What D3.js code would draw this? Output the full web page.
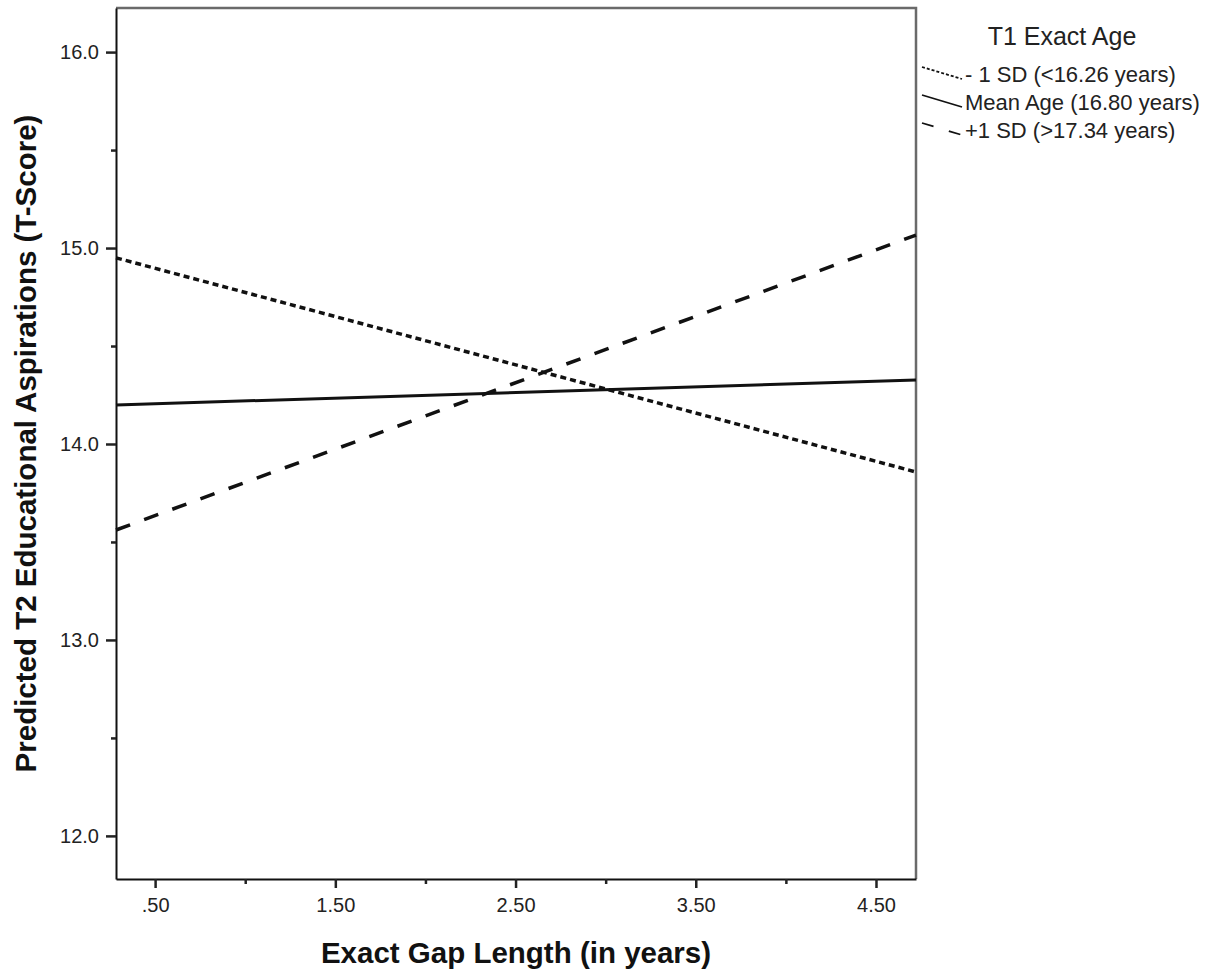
<!DOCTYPE html>
<html>
<head>
<meta charset="utf-8">
<script src="https://cdn.jsdelivr.net/npm/d3@7"></script>
<style>
  body { margin: 0; background: #fff; }
  svg { font-family: Arial, "Liberation Sans", sans-serif; }
</style>
</head>
<body>
<svg id="chart" width="1211" height="975"></svg>
<script>
(function () {
    'use strict';

    // end points of the fitted lines (gap length in years)
    const gapLength = [0.283, 4.722];
    const lowAge = [14.95, 13.857];
    const meanAge = [14.199, 14.327];
    const highAge = [13.561, 15.066];

    const seriesNames = ["- 1 SD (<16.26 years)", "Mean Age (16.80 years)", "+1 SD (>17.34 years)"];
    const dashes = ["6,4", null, "15,15"];

    const xTicks = [0.5, 1.5, 2.5, 3.5, 4.5];
    const xMinor = [1, 2, 3, 4];
    const yTicks = [12, 13, 14, 15, 16];
    const yMinor = [12.5, 13.5, 14.5, 15.5];

    const left = 116, right = 916, top = 8, bottom = 879;

    let svg = d3.select('#chart');

    let x = d3.scaleLinear().domain([0.283, 4.722]).range([left, right]);
    let y = d3.scaleLinear().domain([11.78, 16.225]).range([bottom, top]);

    // top and right frame (grey)
    svg.append('path')
        .attr('d', `M${left},${top}H${right}V${bottom}`)
        .attr('fill', 'none').attr('stroke', '#6a6a6a').attr('stroke-width', 2.5);

    // axes
    svg.append('g')
        .attr('transform', `translate(0,${bottom})`)
        .call(d3.axisBottom(x).tickValues(xTicks).tickSize(9).tickSizeOuter(0).tickPadding(10)
              .tickFormat(d => d3.format('.2f')(d).replace(/^0/, '')));
    svg.append('g')
        .attr('transform', `translate(0,${bottom})`)
        .call(d3.axisBottom(x).tickValues(xMinor).tickSize(5).tickFormat(''))
        .call(g => g.select('.domain').remove());

    svg.append('g')
        .attr('transform', `translate(${left},0)`)
        .call(d3.axisLeft(y).tickValues(yTicks).tickSize(10).tickSizeOuter(0).tickPadding(7)
              .tickFormat(d3.format('.1f')));
    svg.append('g')
        .attr('transform', `translate(${left},0)`)
        .call(d3.axisLeft(y).tickValues(yMinor).tickSize(5).tickFormat(''))
        .call(g => g.select('.domain').remove());

    svg.selectAll('.tick line').attr('stroke', '#222').attr('stroke-width', 2.5);
    svg.selectAll('.domain').attr('stroke', '#111').attr('stroke-width', 2);
    svg.selectAll('.tick text').attr('font-size', 20).attr('fill', '#222')
        .attr('font-family', 'Arial, "Liberation Sans", sans-serif');

    // lines
    let line = d3.line()
        .x((d, i) => x(gapLength[i]))
        .y(d => y(d));

    [lowAge, meanAge, highAge].forEach((vals, i) => {
        svg.append('path')
            .attr('d', line(vals))
            .attr('fill', 'none')
            .attr('stroke', '#111')
            .attr('stroke-width', i === 1 ? 3 : 3.5)
            .attr('stroke-dasharray', dashes[i]);
    });

    // axis titles
    svg.append('text')
        .attr('x', (left + right) / 2).attr('y', 963)
        .attr('text-anchor', 'middle')
        .attr('font-size', 29.5).attr('font-weight', 'bold')
        .attr('fill', '#111')
        .text('Exact Gap Length (in years)');

    svg.append('text')
        .attr('transform', `translate(36,${(top + bottom) / 2}) rotate(-90)`)
        .attr('text-anchor', 'middle')
        .attr('font-size', 29.5).attr('font-weight', 'bold')
        .attr('fill', '#111')
        .text('Predicted T2 Educational Aspirations (T-Score)');

    // legend
    svg.append('text')
        .attr('x', 1062).attr('y', 45)
        .attr('text-anchor', 'middle')
        .attr('font-size', 25).attr('fill', '#222')
        .text('T1 Exact Age');

    seriesNames.forEach((name, i) => {
        let ly = 76 + i * 28;
        svg.append('line')
            .attr('x1', 922).attr('y1', ly - 9)
            .attr('x2', 962).attr('y2', ly + 3)
            .attr('stroke', '#111').attr('stroke-width', 1.8)
            .attr('stroke-dasharray', i === 0 ? '3,2' : (i === 2 ? '12,16' : null));
        svg.append('text')
            .attr('x', 965).attr('y', ly + 6)
            .attr('font-size', 22).attr('fill', '#222')
            .text(name);
    });
})();
</script>
</body>
</html>
